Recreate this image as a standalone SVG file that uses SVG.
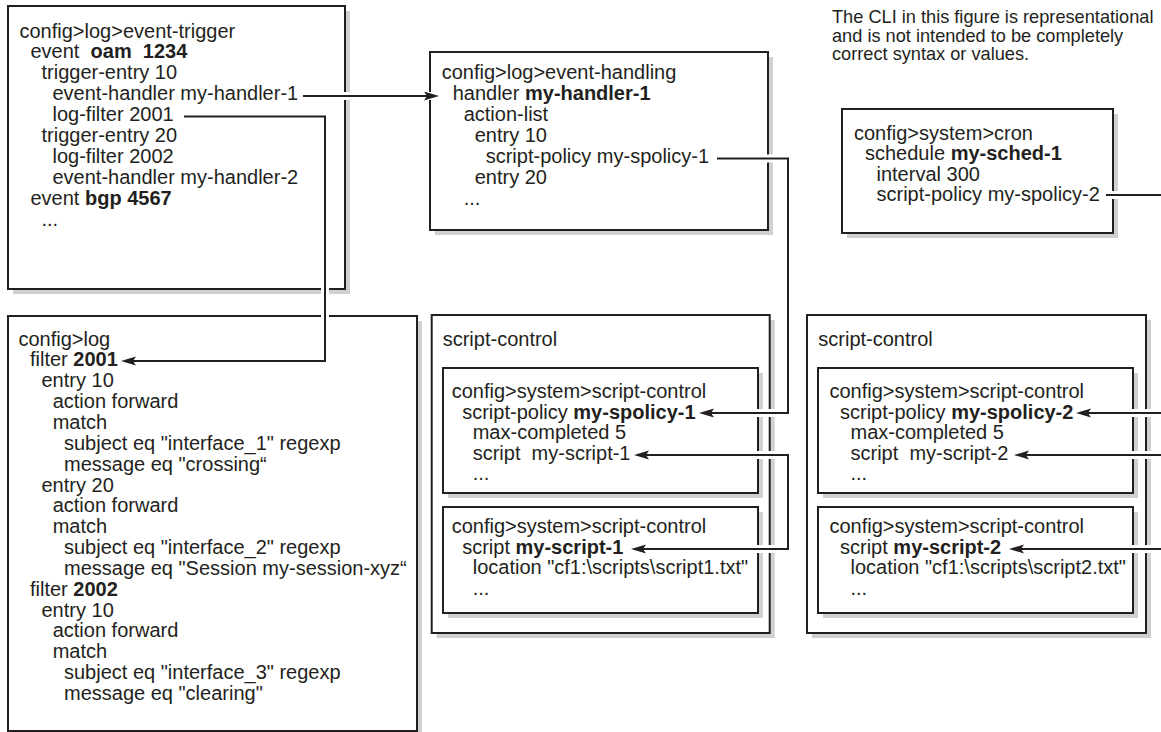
<svg xmlns="http://www.w3.org/2000/svg" width="1161" height="732" viewBox="0 0 1161 732">
  <style>
    .box { fill: #ffffff; stroke: #231f20; stroke-width: 2; }
    .shadow { fill: #d0d0d0; }
    text { font-family: "Liberation Sans", Arial, Helvetica, sans-serif; font-size: 20px; fill: #231f20; }
    .b { font-weight: bold; }
    .note { font-size: 18.2px; }
    .halo { fill: none; stroke: #ffffff; stroke-width: 8; }
    .wire { fill: none; stroke: #231f20; stroke-width: 2; }
  </style>
  <defs>
    <marker id="arrow" markerUnits="userSpaceOnUse" markerWidth="17" markerHeight="10" refX="11" refY="4.5" orient="auto-start-reverse">
      <path d="M0,0 L15,4.5 L0,9 L3,4.5 Z" fill="#231f20"/>
    </marker>
  </defs>

  <rect width="1161" height="732" fill="#ffffff"/>

  <!-- disclaimer note -->
  <g id="note">
    <text class="note" x="832" y="23">The CLI in this figure is representational</text>
    <text class="note" x="832" y="41.6">and is not intended to be completely</text>
    <text class="note" x="832" y="60.2">correct syntax or values.</text>
  </g>

  <!-- config>log>event-trigger -->
  <g id="event-trigger">
    <rect class="shadow" x="13" y="11" width="337" height="283"/>
    <rect class="box" x="8" y="6" width="337" height="283"/>
    <text x="19.5" y="37.5">config&gt;log&gt;event-trigger</text>
    <text x="30.5" y="58.4" xml:space="preserve">event  <tspan class="b">oam  1234</tspan></text>
    <text x="41.5" y="79.3">trigger-entry 10</text>
    <text x="52.5" y="100.2">event-handler my-handler-1</text>
    <text x="52.5" y="121.1">log-filter 2001</text>
    <text x="41.5" y="142">trigger-entry 20</text>
    <text x="52.5" y="162.9">log-filter 2002</text>
    <text x="52.5" y="183.8">event-handler my-handler-2</text>
    <text x="30.5" y="204.7">event <tspan class="b">bgp 4567</tspan></text>
    <text x="41.5" y="225.6">...</text>
  </g>

  <!-- config>log>event-handling -->
  <g id="event-handling">
    <rect class="shadow" x="435" y="57" width="338" height="178"/>
    <rect class="box" x="430" y="52" width="338" height="178"/>
    <text x="441.7" y="79">config&gt;log&gt;event-handling</text>
    <text x="452.7" y="100">handler <tspan class="b">my-handler-1</tspan></text>
    <text x="463.7" y="121">action-list</text>
    <text x="474.7" y="142">entry 10</text>
    <text x="485.7" y="163">script-policy my-spolicy-1</text>
    <text x="474.7" y="184">entry 20</text>
    <text x="463.7" y="205">...</text>
  </g>

  <!-- config>system>cron -->
  <g id="cron">
    <rect class="shadow" x="847" y="114" width="271" height="124"/>
    <rect class="box" x="842" y="109" width="271" height="124"/>
    <text x="854" y="140">config&gt;system&gt;cron</text>
    <text x="865" y="160.3">schedule <tspan class="b">my-sched-1</tspan></text>
    <text x="876.5" y="180.6">interval 300</text>
    <text x="876.5" y="200.9">script-policy my-spolicy-2</text>
  </g>

  <!-- config>log filters -->
  <g id="log-filters">
    <rect class="shadow" x="13" y="321" width="409" height="415"/>
    <rect class="box" x="8" y="316" width="409" height="415"/>
    <text x="18.5" y="345.5">config&gt;log</text>
    <text x="30" y="366.4">filter <tspan class="b">2001</tspan></text>
    <text x="41.5" y="387.2">entry 10</text>
    <text x="52.7" y="408.1">action forward</text>
    <text x="52.7" y="428.9">match</text>
    <text x="64" y="449.8">subject eq "interface_1" regexp</text>
    <text x="64" y="470.6">message eq "crossing“</text>
    <text x="41.5" y="491.5">entry 20</text>
    <text x="52.7" y="512.3">action forward</text>
    <text x="52.7" y="533.2">match</text>
    <text x="64" y="554">subject eq "interface_2" regexp</text>
    <text x="64" y="574.9">message eq "Session my-session-xyz“</text>
    <text x="30" y="595.7">filter <tspan class="b">2002</tspan></text>
    <text x="41.5" y="616.6">entry 10</text>
    <text x="52.7" y="637.4">action forward</text>
    <text x="52.7" y="658.3">match</text>
    <text x="64" y="679.1">subject eq "interface_3" regexp</text>
    <text x="64" y="700">message eq "clearing"</text>
  </g>

  <!-- script-control, policy 1 -->
  <g id="script-control-1">
    <rect class="shadow" x="436.7" y="320" width="338" height="318"/>
    <rect class="box" x="431.7" y="315" width="338" height="318"/>
    <text x="442.7" y="346">script-control</text>
    <g id="spolicy-1">
      <rect class="shadow" x="448" y="373" width="315" height="125"/>
      <rect class="box" x="443" y="368" width="315" height="125"/>
      <text x="451.7" y="398">config&gt;system&gt;script-control</text>
      <text x="462.2" y="418.5">script-policy <tspan class="b">my-spolicy-1</tspan></text>
      <text x="472.7" y="439">max-completed 5</text>
      <text x="472.7" y="459.5" xml:space="preserve">script  my-script-1</text>
      <text x="472.7" y="480">...</text>
    </g>
    <g id="script-1">
      <rect class="shadow" x="448" y="512" width="315" height="106"/>
      <rect class="box" x="443" y="507" width="315" height="106"/>
      <text x="451.7" y="533">config&gt;system&gt;script-control</text>
      <text x="462.2" y="553.5">script <tspan class="b">my-script-1</tspan></text>
      <text x="472.7" y="574">location "cf1:\scripts\script1.txt"</text>
      <text x="472.7" y="594.5">...</text>
    </g>
  </g>

  <!-- script-control, policy 2 -->
  <g id="script-control-2">
    <rect class="shadow" x="812" y="320" width="339" height="318"/>
    <rect class="box" x="807" y="315" width="339" height="318"/>
    <text x="818.3" y="346">script-control</text>
    <g id="spolicy-2">
      <rect class="shadow" x="823" y="373" width="315" height="125"/>
      <rect class="box" x="818" y="368" width="315" height="125"/>
      <text x="829.5" y="398">config&gt;system&gt;script-control</text>
      <text x="840" y="418.5">script-policy <tspan class="b">my-spolicy-2</tspan></text>
      <text x="850.5" y="439">max-completed 5</text>
      <text x="850.5" y="459.5" xml:space="preserve">script  my-script-2</text>
      <text x="850.5" y="480">...</text>
    </g>
    <g id="script-2">
      <rect class="shadow" x="823" y="512" width="315" height="106"/>
      <rect class="box" x="818" y="507" width="315" height="106"/>
      <text x="829.5" y="533">config&gt;system&gt;script-control</text>
      <text x="840" y="553.5">script <tspan class="b">my-script-2</tspan></text>
      <text x="850.5" y="574">location "cf1:\scripts\script2.txt"</text>
      <text x="850.5" y="594.5">...</text>
    </g>
  </g>

  <!-- connectors: white halo breaks the borders they cross -->
  <g id="connectors">
    <path class="halo" d="M309,96 H433"/>
    <path class="halo" d="M325,123 V355"/>
    <path class="halo" d="M722,158.5 H788 V413 H745"/>
    <path class="halo" d="M745,455 H788 V549 H745"/>
    <path class="halo" d="M1110,195 H1161"/>
    <path class="halo" d="M1120,413 H1161"/>
    <path class="halo" d="M1120,455 H1161"/>
    <path class="halo" d="M1120,549 H1161"/>

    <path class="wire" d="M303,96 H435" marker-end="url(#arrow)"/>
    <path class="wire" d="M184,116.5 H325 V361 H125" marker-end="url(#arrow)"/>
    <path class="wire" d="M717,158.5 H788 V413 H703" marker-end="url(#arrow)"/>
    <path class="wire" d="M638,455 H788 V549 H635" marker-start="url(#arrow)" marker-end="url(#arrow)"/>
    <path class="wire" d="M1106,195 H1161"/>
    <path class="wire" d="M1161,413 H1080" marker-end="url(#arrow)"/>
    <path class="wire" d="M1161,455 H1018" marker-end="url(#arrow)"/>
    <path class="wire" d="M1161,549 H1013" marker-end="url(#arrow)"/>
  </g>
</svg>
